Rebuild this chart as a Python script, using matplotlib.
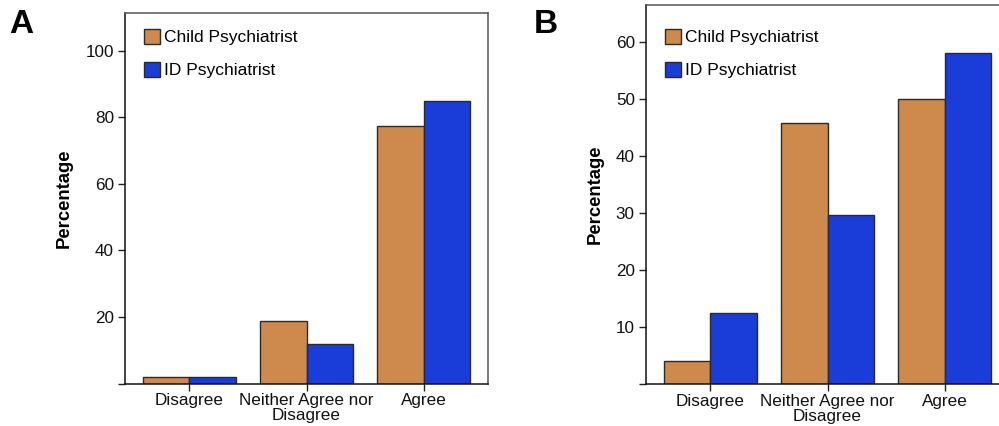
import matplotlib
matplotlib.use("Agg")
import matplotlib.pyplot as plt
import numpy as np

plt.rcParams['font.family'] = ['Liberation Sans', 'DejaVu Sans']

categories = ['Disagree', 'Neither Agree nor\nDisagree', 'Agree']
series_names = ['Child Psychiatrist', 'ID Psychiatrist']
a_child = [1.9, 18.9, 77.5]
a_id = [1.9, 11.9, 85.0]
b_child = [4.1, 45.8, 50.0]
b_id = [12.4, 29.6, 58.0]
a_yticks = [0, 20, 40, 60, 80, 100]
b_yticks = [0, 10, 20, 30, 40, 50, 60]

c_orange = '#CD8A4C'
c_blue = '#1A3CD8'
edge = '#2a2a2a'

W, H = 999, 426
fig = plt.figure(figsize=(W / 100, H / 100), dpi=100)

def make_axes(left, top, bottom, width):
    return fig.add_axes([left / W, (H - bottom) / H, width / W, (bottom - top) / H])

axA = make_axes(125, 13, 383.5, 363)
axB = make_axes(646, 5, 384, 363)

def draw(ax, child, idv, yticks, ylim, letter, letter_x):
    x = np.arange(len(categories))
    w = 0.395
    ax.bar(x - w / 2, child, width=w, color=c_orange, edgecolor=edge, linewidth=1.0,
           label=series_names[0])
    ax.bar(x + w / 2, idv, width=w, color=c_blue, edgecolor=edge, linewidth=1.0,
           label=series_names[1])
    ax.set_xlim(-0.55, 2.55)
    ax.set_ylim(*ylim)
    ax.set_xticks(x)
    ax.set_xticklabels(categories, fontsize=12.3, linespacing=1.02)
    ax.set_yticks(yticks)
    ax.set_yticklabels([''] + [str(t) for t in yticks[1:]], fontsize=12.3)
    ax.tick_params(axis='both', direction='out', length=5, width=1.0, color='#222222',
                   labelcolor='#111111')
    ax.tick_params(axis='y', pad=3)
    ax.tick_params(axis='x', pad=2)
    for s in ['left', 'bottom']:
        ax.spines[s].set_color('#111111')
        ax.spines[s].set_linewidth(1.1)
    for s in ['top', 'right']:
        ax.spines[s].set_color('#555555')
        ax.spines[s].set_linewidth(1.1)
    ax.set_ylabel('Percentage', fontsize=13.3, fontweight='bold', labelpad=9)
    leg = ax.legend(loc='upper left', bbox_to_anchor=((ax.get_position().x0 * W + 19) / W, (H - 29) / H),
                    bbox_transform=fig.transFigure, frameon=False, fontsize=12.5,
                    handlelength=0.95, handleheight=0.95, handletextpad=0.22,
                    labelspacing=0.95, borderpad=0, borderaxespad=0)
    for p in leg.get_patches():
        p.set_edgecolor(edge)
        p.set_linewidth(1.0)
    fig.text(letter_x / W, (H - 33) / H, letter, fontsize=24, fontweight='bold',
             ha='left', va='baseline')

draw(axA, a_child, a_id, a_yticks, (0, 111.3), 'A', 9)
draw(axB, b_child, b_id, b_yticks, (0, 66.5), 'B', 534)

fig.savefig('out.png', dpi=100)
